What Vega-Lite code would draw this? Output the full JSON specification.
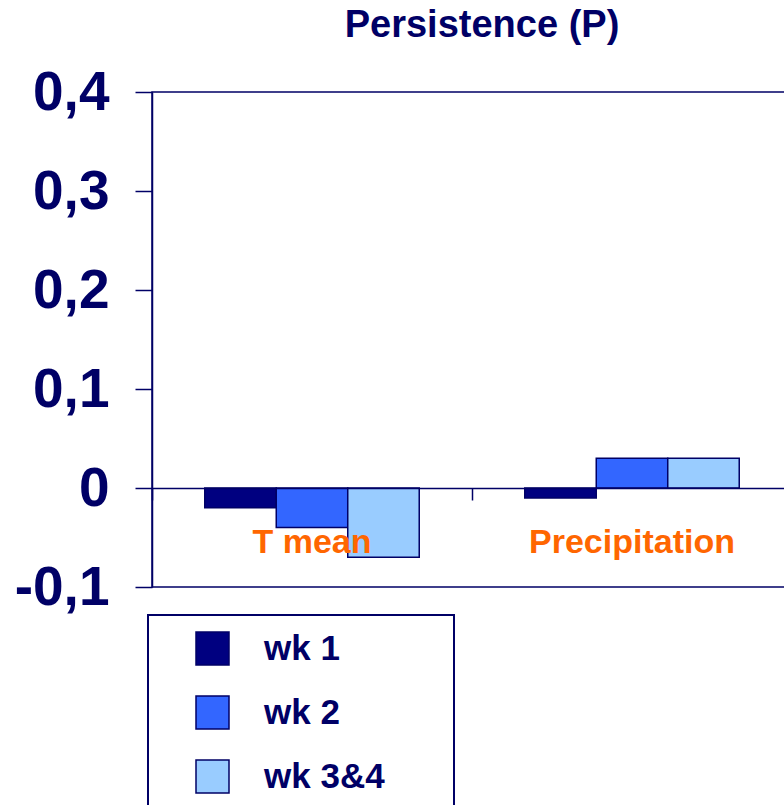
{
  "$schema": "https://vega.github.io/schema/vega-lite/v6.json",
  "autosize": "none",
  "width": 640,
  "height": 495,
  "padding": {"left": 152, "top": 92, "right": 0, "bottom": 218},
  "background": "white",
  "title": {
    "text": "Persistence (P)",
    "font": "Liberation Sans",
    "fontSize": 38,
    "fontWeight": "bold",
    "color": "#000066",
    "anchor": "middle",
    "baseline": "alphabetic",
    "offset": 26,
    "dx": 10,
    "dy": 36
  },
  "config": {
    "view": {"stroke": "#000066", "strokeWidth": 1.5},
    "font": "Liberation Sans"
  },
  "data": {
    "values": [
      {"variable": "T mean", "week": "wk 1", "value": -0.02},
      {"variable": "T mean", "week": "wk 2", "value": -0.04},
      {"variable": "T mean", "week": "wk 3&4", "value": -0.07},
      {"variable": "Precipitation", "week": "wk 1", "value": -0.01},
      {"variable": "Precipitation", "week": "wk 2", "value": 0.03},
      {"variable": "Precipitation", "week": "wk 3&4", "value": 0.03}
    ]
  },
  "mark": {"type": "bar", "stroke": "#000066", "strokeWidth": 1.5},
  "encoding": {
    "x": {
      "field": "variable",
      "type": "nominal",
      "sort": ["T mean", "Precipitation"],
      "scale": {"paddingInner": 0, "paddingOuter": 0},
      "axis": {
        "title": null,
        "orient": "bottom",
        "offset": -99,
        "zindex": 1,
        "bandPosition": 0,
        "labelAngle": 0,
        "labelFont": "Liberation Sans",
        "labelFontSize": 34,
        "labelFontWeight": "bold",
        "labelColor": "#FF6600",
        "labelPadding": 25,
        "labelLimit": 400,
        "labelOverlap": false,
        "tickSize": 12,
        "tickColor": "#000066",
        "tickWidth": 1.5,
        "domainColor": "#000066",
        "domainWidth": 1.5
      }
    },
    "xOffset": {
      "field": "week",
      "type": "nominal",
      "sort": ["wk 1", "wk 2", "wk 3&4"],
      "scale": {"paddingInner": 0, "paddingOuter": 0.738}
    },
    "y": {
      "field": "value",
      "type": "quantitative",
      "scale": {"domain": [-0.1, 0.4], "nice": false, "zero": false},
      "axis": {
        "title": null,
        "values": [-0.1, 0, 0.1, 0.2, 0.3, 0.4],
        "grid": false,
        "labelExpr": "datum.value == 0 ? '0' : (datum.value < 0 ? '-' : '') + replace(format(abs(datum.value), '.1f'), '.', ',')",
        "labelFont": "Liberation Sans",
        "labelFontSize": 55,
        "labelFontWeight": "bold",
        "labelColor": "#000066",
        "labelPadding": 26,
        "tickSize": 17,
        "tickColor": "#000066",
        "tickWidth": 1.5,
        "domainColor": "#000066",
        "domainWidth": 1.5
      }
    },
    "color": {
      "field": "week",
      "type": "nominal",
      "scale": {"domain": ["wk 1", "wk 2", "wk 3&4"], "range": ["#000080", "#3366FF", "#99CCFF"]},
      "legend": {
        "orient": "none",
        "legendX": -4,
        "legendY": 523,
        "title": "\u00a0",
        "titleOrient": "right",
        "titleColor": "white",
        "titleFontSize": 10,
        "titlePadding": 53,
        "strokeColor": "#000066",
        "padding": 16,
        "symbolType": "square",
        "symbolSize": 1089,
        "symbolStrokeColor": "#000066",
        "symbolStrokeWidth": 1.5,
        "symbolOffset": 31,
        "labelFont": "Liberation Sans",
        "labelFontSize": 35,
        "labelFontWeight": "bold",
        "labelColor": "#000066",
        "labelOffset": 34,
        "labelLimit": 400,
        "rowPadding": 25,
        "encode": {"legend": {"update": {"strokeWidth": {"value": 2}}}}
      }
    }
  }
}
